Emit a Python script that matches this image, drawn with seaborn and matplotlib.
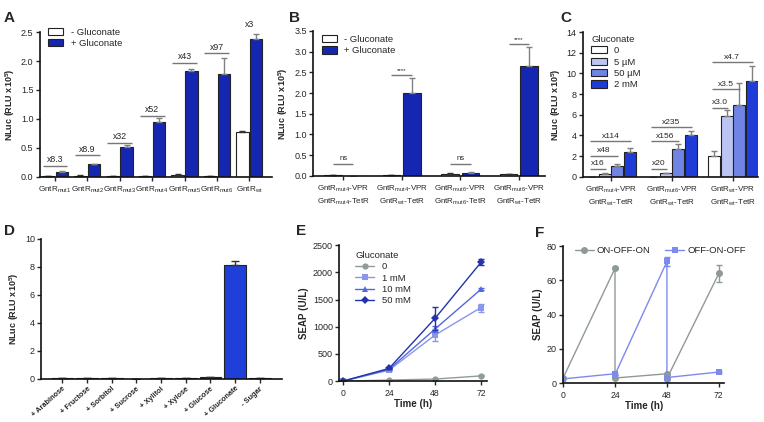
import numpy as np
import pandas as pd
import matplotlib
matplotlib.use('Agg')
import matplotlib.pyplot as plt
import seaborn as sns

# ---- data ----
# A: GntR variants, -/+ gluconate
a_groups = ['mut1', 'mut2', 'mut3', 'mut4', 'mut5', 'mut6', 'wt']
a_minus = [0.01, 0.02, 0.01, 0.01, 0.04, 0.01, 0.78]
a_minus_err = [0.0, 0.005, 0.0, 0.0, 0.01, 0.0, 0.01]
a_plus = [0.09, 0.22, 0.51, 0.95, 1.83, 1.77, 2.38]
a_plus_err = [0.01, 0.01, 0.04, 0.07, 0.04, 0.28, 0.09]
a_fold = ['x8.3', 'x8.9', 'x32', 'x52', 'x43', 'x97', 'x3']
a_fold_y = [0.19, 0.37, 0.59, 1.05, 1.97, 2.13, 2.53]

# B: VPR / TetR combinations
b_groups = ['mut4/mut4', 'mut4/wt', 'mut6/mut6', 'mut6/wt']
b_vpr = ['mut4', 'mut4', 'mut6', 'mut6']
b_tetr = ['mut4', 'wt', 'mut6', 'wt']
b_minus = [0.02, 0.02, 0.05, 0.04]
b_minus_err = [0.0, 0.005, 0.01, 0.005]
b_plus = [0.01, 2.01, 0.06, 2.65]
b_plus_err = [0.0, 0.35, 0.04, 0.46]
b_sig = ['ns', '****', 'ns', '****']
b_sig_y = [0.30, 2.44, 0.30, 3.19]

# C: gluconate dose
c_groups = ['mut4', 'mut6', 'wt']
c_levels = ['0', '5 µM', '50 µM', '2 mM']
c_vals = {'0': [0.02, 0.02, 1.98],
          '5 µM': [0.29, 0.36, 5.93],
          '50 µM': [1.08, 2.72, 6.92],
          '2 mM': [2.43, 4.07, 9.29]}
c_errs = {'0': [0.0, 0.0, 0.56],
          '5 µM': [0.05, 0.05, 0.54],
          '50 µM': [0.16, 0.45, 2.12],
          '2 mM': [0.33, 0.38, 1.45]}
# (group, target level, label, line height)
c_fold = [(0, '5 µM', 'x16', 0.77), (0, '50 µM', 'x48', 2.05), (0, '2 mM', 'x114', 3.43),
          (1, '5 µM', 'x20', 0.77), (1, '50 µM', 'x156', 3.43), (1, '2 mM', 'x235', 4.78),
          (2, '5 µM', 'x3.0', 6.70), (2, '50 µM', 'x3.5', 8.46), (2, '2 mM', 'x4.7', 11.1)]

# D: sugar specificity
d_sugars = ['+ Arabinose', '+ Fructose', '+ Sorbitol', '+ Sucrose', '+ Xylitol',
            '+ Xylose', '+ Glucose', '+ Gluconate', '- Sugar']
d_vals = [0.05, 0.06, 0.06, 0.02, 0.06, 0.08, 0.12, 8.15, 0.05]
d_errs = [0.01, 0.01, 0.01, 0.0, 0.01, 0.01, 0.02, 0.25, 0.01]

# E: SEAP time course
e_time = [0, 24, 48, 72]
e_levels = ['0', '1 mM', '10 mM', '50 mM']
e_vals = {'0': [0, 18, 37, 95],
          '1 mM': [0, 200, 846, 1352],
          '10 mM': [0, 215, 956, 1688],
          '50 mM': [0, 232, 1152, 2183]}
e_errs = {'0': [0, 5, 8, 10],
          '1 mM': [0, 15, 115, 75],
          '10 mM': [0, 15, 60, 20],
          '50 mM': [0, 15, 215, 55]}

# F: reversibility
f_time = [0, 24, 24, 48, 48, 72]
f_on = [3, 67, 3, 5.5, 2.7, 64]
f_on_err = [0, 0.5, 0, 0.5, 0, 5]
f_off = [2.5, 5.5, 5, 71, 3.3, 6.5]
f_off_err = [0, 0.5, 0, 2.5, 0, 0.5]

# ---- style ----
sns.set_theme(style='ticks')
plt.rcParams['font.family'] = ['Liberation Sans', 'DejaVu Sans']
plt.rcParams['mathtext.fontset'] = 'custom'
plt.rcParams['mathtext.rm'] = 'Liberation Sans'
plt.rcParams['mathtext.it'] = 'Liberation Sans:italic'
plt.rcParams['mathtext.bf'] = 'Liberation Sans:bold'
plt.rcParams['font.size'] = 6.5
plt.rcParams['axes.linewidth'] = 1.2
plt.rcParams['xtick.major.width'] = 1.0
plt.rcParams['ytick.major.width'] = 1.0
plt.rcParams['xtick.major.size'] = 3
plt.rcParams['ytick.major.size'] = 3
plt.rcParams['xtick.major.pad'] = 2.5
plt.rcParams['ytick.major.pad'] = 1.5
plt.rcParams['xtick.labelsize'] = 6.2
plt.rcParams['ytick.labelsize'] = 6.5

BLUE = '#1527b0'
GREY_ERR = '#808080'
ylab = r'NLuc (RLU x10$^{\mathbf{5}}$)'

def sub(name):
    return r'GntR$_{\mathregular{%s}}$' % name

def add_errors(ax, container, errs, color=GREY_ERR):
    xs = [b.get_x() + b.get_width() / 2 for b in container]
    ys = [b.get_height() for b in container]
    ax.errorbar(xs, ys, yerr=[np.zeros(len(errs)), errs], fmt='none',
                ecolor=color, elinewidth=1.0, capsize=2.5, capthick=1.0, zorder=1)

def bracket(ax, x0, x1, y, label, fs=6.3, dy=0.0):
    ax.plot([x0, x1], [y, y], color='#777777', lw=1.0, solid_capstyle='butt')
    ax.text((x0 + x1) / 2, y + dy, label, ha='center', va='bottom', fontsize=fs)

def bar_legend(ax, **kw):
    h, l = ax.get_legend_handles_labels()
    leg = ax.legend(h, l, frameon=False, handlelength=1.6, handleheight=0.8,
                    handletextpad=0.8, labelspacing=0.25, fontsize=6.8, **kw)
    return leg

fig = plt.figure(figsize=(7.64, 4.22), dpi=100)
axA = fig.add_axes([0.052, 0.581, 0.304, 0.343])
axB = fig.add_axes([0.410, 0.583, 0.303, 0.344])
axC = fig.add_axes([0.763, 0.581, 0.229, 0.343])
axD = fig.add_axes([0.054, 0.102, 0.315, 0.332])
axE = fig.add_axes([0.444, 0.097, 0.193, 0.322])
axF = fig.add_axes([0.737, 0.092, 0.211, 0.325])

# ---- A ----
dfA = pd.DataFrame({'group': a_groups * 2,
                    'value': a_minus + a_plus,
                    'cond': ['- Gluconate'] * 7 + ['+ Gluconate'] * 7})
sns.barplot(data=dfA, x='group', y='value', hue='cond',
            hue_order=['- Gluconate', '+ Gluconate'], palette=['white', BLUE],
            saturation=1, edgecolor='#222222', linewidth=0.8, width=0.85, gap=0.1,
            errorbar=None, ax=axA)
add_errors(axA, axA.containers[0], a_minus_err, '#333333')
add_errors(axA, axA.containers[1], a_plus_err)
for i, (lab, y) in enumerate(zip(a_fold, a_fold_y)):
    w = axA.containers[0][i]
    b = axA.containers[1][i]
    bracket(axA, w.get_x() + 0.02, b.get_x() + b.get_width() - 0.02, y, lab, dy=0.03)
axA.set_ylim(0, 2.5)
axA.set_yticks(np.arange(0, 2.51, 0.5))
axA.set_yticklabels(['%.1f' % v for v in np.arange(0, 2.51, 0.5)])
axA.set_xlim(-0.47, 6.7)
axA.set_xticks(range(7))
axA.set_xticklabels([sub(g) for g in a_groups], fontsize=5.9)
axA.set_xlabel('')
axA.set_ylabel(ylab, fontweight='bold', fontsize=6.5, labelpad=3)
bar_legend(axA, loc='upper left', bbox_to_anchor=(0.0, 1.09))

# ---- B ----
dfB = pd.DataFrame({'group': b_groups * 2,
                    'value': b_minus + b_plus,
                    'cond': ['- Gluconate'] * 4 + ['+ Gluconate'] * 4})
sns.barplot(data=dfB, x='group', y='value', hue='cond',
            hue_order=['- Gluconate', '+ Gluconate'], palette=['white', BLUE],
            saturation=1, edgecolor='#222222', linewidth=0.8, width=0.7, gap=0.15,
            errorbar=None, ax=axB)
add_errors(axB, axB.containers[0], b_minus_err, '#333333')
add_errors(axB, axB.containers[1], b_plus_err)
for i, (lab, y) in enumerate(zip(b_sig, b_sig_y)):
    w = axB.containers[0][i]
    b = axB.containers[1][i]
    xa = w.get_x() + w.get_width() / 2
    xb = b.get_x() + b.get_width() / 2
    bracket(axB, xa, xb, y, lab, fs=5.5 if lab == 'ns' else 4.5, dy=0.04)
axB.set_ylim(0, 3.5)
axB.set_yticks(np.arange(0, 3.51, 0.5))
axB.set_yticklabels(['%.1f' % v for v in np.arange(0, 3.51, 0.5)])
axB.set_xlim(-0.51, 3.44)
axB.set_xticks(range(4))
axB.set_xticklabels([sub(v) + '-VPR\n' + sub(t) + '-TetR' for v, t in zip(b_vpr, b_tetr)],
                    linespacing=1.4, fontsize=5.8)
axB.set_xlabel('')
axB.set_ylabel(ylab, fontweight='bold', fontsize=6.5, labelpad=3)
bar_legend(axB, loc='upper left', bbox_to_anchor=(0.0, 1.03))

# ---- C ----
dfC = pd.DataFrame({'group': [g for lv in c_levels for g in c_groups],
                    'value': [v for lv in c_levels for v in c_vals[lv]],
                    'dose': [lv for lv in c_levels for g in c_groups]})
c_colors = ['white', '#bcc5f2', '#6f84e4', '#1f3dd6']
sns.barplot(data=dfC, x='group', y='value', hue='dose', hue_order=c_levels,
            palette=c_colors, saturation=1, edgecolor='#222222', linewidth=0.8,
            width=0.82, gap=0.05, errorbar=None, ax=axC)
for k, lv in enumerate(c_levels):
    add_errors(axC, axC.containers[k], c_errs[lv])
for g, lv, lab, y in c_fold:
    first = axC.containers[0][g]
    tgt = axC.containers[c_levels.index(lv)][g]
    xa = first.get_x() + first.get_width() * 0.3
    xb = tgt.get_x() + tgt.get_width() * 0.6
    bracket(axC, xa, xb, y, lab, fs=6.0, dy=0.15)
axC.set_ylim(0, 14)
axC.set_yticks(range(0, 15, 2))
axC.set_xlim(-0.46, 2.41)
axC.set_xticks(range(3))
axC.set_xticklabels([sub(g) + '-VPR\n' + sub('wt') + '-TetR' for g in c_groups],
                    linespacing=1.4, fontsize=5.8)
axC.set_xlabel('')
axC.set_ylabel(ylab, fontweight='bold', fontsize=6.5, labelpad=3)
legC = bar_legend(axC, loc='upper left', bbox_to_anchor=(0.0, 1.04), title='Gluconate')
legC.get_title().set_fontsize(6.8)
legC._legend_box.align = 'left'

# ---- D ----
dfD = pd.DataFrame({'sugar': d_sugars, 'value': d_vals})
d_colors = ['#2e2e2e'] * 7 + ['#1f40d8', '#2e2e2e']
sns.barplot(data=dfD, x='sugar', y='value', hue='sugar', palette=d_colors,
            saturation=1, edgecolor='#222222', linewidth=0.8, width=0.88,
            errorbar=None, legend=False, ax=axD)
xs = [c[0].get_x() + c[0].get_width() / 2 for c in axD.containers]
ys = [c[0].get_height() for c in axD.containers]
axD.errorbar(xs, ys, yerr=[np.zeros(len(d_errs)), d_errs], fmt='none',
             ecolor='#333333', elinewidth=1.0, capsize=3, capthick=1.0, zorder=1)
axD.set_ylim(0, 10)
axD.set_yticks(range(0, 11, 2))
axD.set_xlim(-0.86, 8.9)
axD.set_xticks(range(len(d_sugars)))
axD.set_xticklabels(d_sugars, rotation=42, ha='right', rotation_mode='anchor',
                    fontsize=5.3, fontweight='bold')
axD.tick_params(axis='x', pad=1.5)
axD.set_xlabel('')
axD.set_ylabel(ylab, fontweight='bold', fontsize=6.5, labelpad=3)

# ---- E ----
dfE = pd.DataFrame({'time': e_time * 4,
                    'seap': [v for lv in e_levels for v in e_vals[lv]],
                    'conc': [lv for lv in e_levels for t in e_time]})
e_colors = ['#909c99', '#8896ee', '#5567de', '#2233ad']
e_markers = ['o', 's', '^', 'D']
sns.lineplot(data=dfE, x='time', y='seap', hue='conc', style='conc',
             hue_order=e_levels, style_order=e_levels, palette=e_colors,
             markers=e_markers, dashes=False, markersize=4.5, markeredgewidth=0,
             linewidth=1.0, errorbar=None, ax=axE)
for lv, col in zip(e_levels, e_colors):
    axE.errorbar(e_time, e_vals[lv], yerr=e_errs[lv], fmt='none', ecolor=col,
                 elinewidth=1.0, capsize=2.5, capthick=1.0)
axE.set_ylim(0, 2500)
axE.set_yticks(range(0, 2501, 500))
axE.set_xlim(-2, 75)
axE.set_xticks(e_time)
axE.set_xlabel('Time (h)', fontweight='bold', fontsize=7, labelpad=1)
axE.set_ylabel('SEAP (U/L)', fontweight='bold', fontsize=7, labelpad=3)
h, l = axE.get_legend_handles_labels()
legE = axE.legend(h, l, title='Gluconate', frameon=False, loc='upper left',
                  bbox_to_anchor=(0.05, 1.02), fontsize=6.8, labelspacing=0.25,
                  handlelength=2.0, handletextpad=0.8)
legE.get_title().set_fontsize(6.8)
legE._legend_box.align = 'left'

# ---- F ----
dfF = pd.DataFrame({'time': f_time * 2,
                    'seap': f_on + f_off,
                    'mode': ['ON-OFF-ON'] * len(f_time) + ['OFF-ON-OFF'] * len(f_time)})
f_colors = ['#8f9995', '#7c89ee']
sns.lineplot(data=dfF, x='time', y='seap', hue='mode', style='mode',
             palette=f_colors, markers=['o', 's'], dashes=False, sort=False,
             estimator=None, markersize=5, markeredgewidth=0, linewidth=1.0, ax=axF)
axF.errorbar(f_time, f_on, yerr=f_on_err, fmt='none', ecolor=f_colors[0],
             elinewidth=1.0, capsize=2.5, capthick=1.0)
axF.errorbar(f_time, f_off, yerr=f_off_err, fmt='none', ecolor=f_colors[1],
             elinewidth=1.0, capsize=2.5, capthick=1.0)
axF.set_ylim(0, 80)
axF.set_yticks(range(0, 81, 20))
axF.set_xlim(0, 74.5)
axF.set_xticks([0, 24, 48, 72])
axF.set_xlabel('Time (h)', fontweight='bold', fontsize=7, labelpad=1)
axF.set_ylabel('SEAP (U/L)', fontweight='bold', fontsize=7, labelpad=3)
h, l = axF.get_legend_handles_labels()
axF.legend(h, l, frameon=False, ncol=2, loc='upper left', bbox_to_anchor=(0.02, 1.06),
           fontsize=6.8, handlelength=2.0, handletextpad=0.3, columnspacing=1.6)

for ax in [axA, axB, axC, axD, axE, axF]:
    sns.despine(ax=ax)
    for s in ['left', 'bottom']:
        ax.spines[s].set_color('#111111')

for lab, x, y in [('A', 0.005, 0.975), ('B', 0.378, 0.975), ('C', 0.733, 0.975),
                  ('D', 0.005, 0.47), ('E', 0.388, 0.47), ('F', 0.700, 0.465)]:
    fig.text(x, y, lab, fontsize=11, fontweight='bold', ha='left', va='top')

fig.savefig('out.png', dpi=100, facecolor='white')
